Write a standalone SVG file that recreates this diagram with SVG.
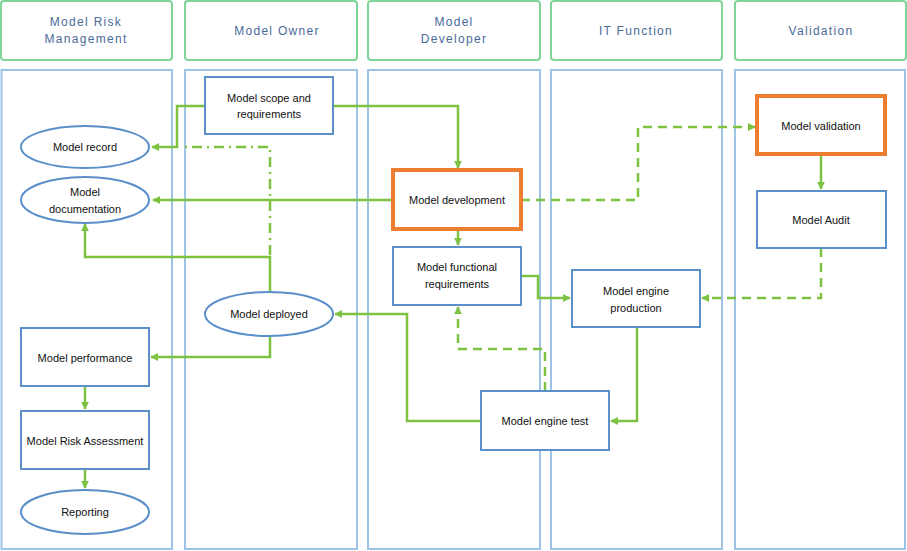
<svg xmlns="http://www.w3.org/2000/svg" width="907" height="551" viewBox="0 0 907 551">
<style>
.hdr{fill:#fff;stroke:#7fd49a;stroke-width:2}
.lane{fill:#fff;stroke:#9dc3e6;stroke-width:2}
.ht{font-family:"Liberation Sans",Arial,sans-serif;font-size:12px;fill:#4a6a9a;letter-spacing:1.3px;text-anchor:middle}
.box{fill:#fff;stroke:#5b8fc9;stroke-width:2}
.obox{fill:#fff;stroke:#ed7d31;stroke-width:4}
.t{font-family:"Liberation Sans",Arial,sans-serif;font-size:11px;fill:#111;text-anchor:middle}
.c{fill:none;stroke:#7ec242;stroke-width:2.5}
.d{stroke-dasharray:9,6}
.dd{stroke-dasharray:10,5,2,5}
</style>
<defs>
<marker id="a" viewBox="0 0 10 10" refX="9" refY="5" markerWidth="3.2" markerHeight="3.2" orient="auto">
<path d="M0,0 L10,5 L0,10 z" fill="#7ec242"/>
</marker>
</defs>
<rect width="907" height="551" fill="#fff"/>
<g id="headers">
<rect class="hdr" x="1" y="1" width="171" height="59" rx="3"/>
<rect class="hdr" x="185" y="1" width="172" height="59" rx="3"/>
<rect class="hdr" x="368" y="1" width="172" height="59" rx="3"/>
<rect class="hdr" x="551" y="1" width="171" height="59" rx="3"/>
<rect class="hdr" x="735" y="1" width="171" height="59" rx="3"/>
<text class="ht" x="86" y="26">Model Risk</text>
<text class="ht" x="86" y="43">Management</text>
<text class="ht" x="277" y="35">Model Owner</text>
<text class="ht" x="454" y="26">Model</text>
<text class="ht" x="454" y="43">Developer</text>
<text class="ht" x="636" y="35">IT Function</text>
<text class="ht" x="821" y="35">Validation</text>
</g>
<g id="lanes">
<rect class="lane" x="1.5" y="70" width="170.5" height="479"/>
<rect class="lane" x="185" y="70" width="172" height="479"/>
<rect class="lane" x="368" y="70" width="172" height="479"/>
<rect class="lane" x="551" y="70" width="171" height="479"/>
<rect class="lane" x="735" y="70" width="170" height="479"/>
</g>
<g id="connectors">
<path class="c" d="M333,106 H458 V168" marker-end="url(#a)"/>
<path class="c" d="M205,106 H177 V147 H152" marker-end="url(#a)"/>
<path class="c dd" d="M270,255 V147 H180"/>
<path class="c" d="M392,200 H153" marker-end="url(#a)"/>
<path class="c d" d="M521,200 H638 V127 H755" marker-end="url(#a)"/>
<path class="c" d="M458,229 V245" marker-end="url(#a)"/>
<path class="c" d="M821,154 V189" marker-end="url(#a)"/>
<path class="c d" d="M821,248 V298 H702" marker-end="url(#a)"/>
<path class="c" d="M521,276 H538 V298 H570" marker-end="url(#a)"/>
<path class="c" d="M637,327 V421 H611" marker-end="url(#a)"/>
<path class="c" d="M481,421 H407 V314 H335" marker-end="url(#a)"/>
<path class="c d" d="M545,391 V349 H458 V307" marker-end="url(#a)"/>
<path class="c" d="M270,292 V257 H85 V224" marker-end="url(#a)"/>
<path class="c" d="M270,336 V357 H151" marker-end="url(#a)"/>
<path class="c" d="M85,386 V409" marker-end="url(#a)"/>
<path class="c" d="M85,469 V488" marker-end="url(#a)"/>
</g>
<g id="n-scope"><rect class="box" x="205" y="77" width="128" height="57"/><text class="t" x="269" y="102">Model scope and</text><text class="t" x="269" y="118">requirements</text></g>
<g id="n-record"><ellipse class="box" cx="85" cy="147" rx="64" ry="21"/><text class="t" x="85" y="151">Model record</text></g>
<g id="n-doc"><ellipse class="box" cx="85" cy="200" rx="64" ry="23"/><text class="t" x="85" y="196">Model</text><text class="t" x="85" y="213">documentation</text></g>
<g id="n-dev"><rect class="obox" x="393" y="170" width="128" height="59"/><text class="t" x="457" y="204">Model development</text></g>
<g id="n-func"><rect class="box" x="393" y="247" width="128" height="58"/><text class="t" x="457" y="271">Model functional</text><text class="t" x="457" y="288">requirements</text></g>
<g id="n-val"><rect class="obox" x="757" y="96" width="128" height="58"/><text class="t" x="821" y="130">Model validation</text></g>
<g id="n-audit"><rect class="box" x="757" y="191" width="129" height="57"/><text class="t" x="821" y="224">Model Audit</text></g>
<g id="n-prod"><rect class="box" x="572" y="270" width="128" height="57"/><text class="t" x="636" y="295">Model engine</text><text class="t" x="636" y="312">production</text></g>
<g id="n-deployed"><ellipse class="box" cx="269" cy="314" rx="64" ry="22"/><text class="t" x="269" y="318">Model deployed</text></g>
<g id="n-perf"><rect class="box" x="21" y="328" width="128" height="58"/><text class="t" x="85" y="362">Model performance</text></g>
<g id="n-mra"><rect class="box" x="21" y="411" width="128" height="58"/><text class="t" x="85" y="445">Model Risk Assessment</text></g>
<g id="n-rep"><ellipse class="box" cx="85" cy="512" rx="64" ry="22"/><text class="t" x="85" y="516">Reporting</text></g>
<g id="n-test"><rect class="box" x="481" y="391" width="128" height="59"/><text class="t" x="545" y="425">Model engine test</text></g>
</svg>
